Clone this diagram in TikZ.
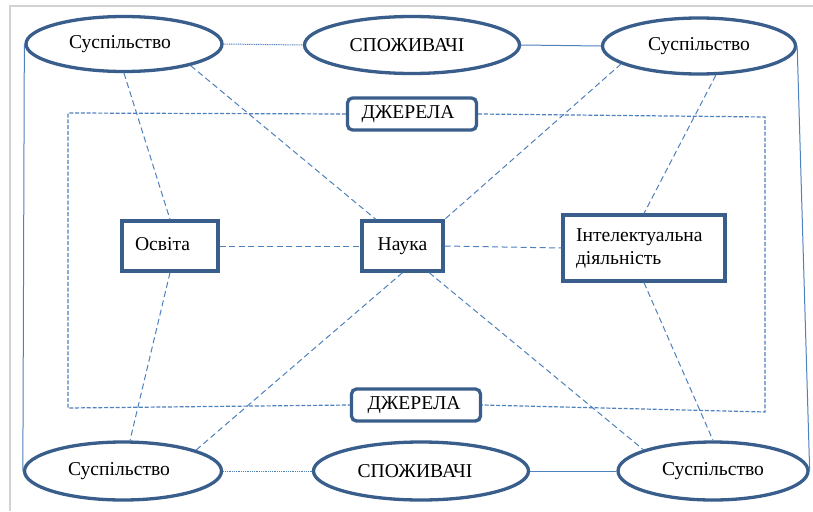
\documentclass[tikz,border=0pt]{standalone}
\usepackage{fontspec}
\setmainfont{Liberation Serif}
\newfontfamily\timesfont{Liberation Serif}
\usetikzlibrary{shapes.geometric,calc}
\definecolor{dkblue}{RGB}{58,94,140}
\definecolor{ltblue}{RGB}{79,129,189}
\definecolor{framegray}{RGB}{210,210,210}
\begin{document}
\begin{tikzpicture}[x=1pt,y=-1pt,
  every node/.style={font=\timesfont\fontsize{19.6}{23}\selectfont},
  ell/.style={ellipse, draw=dkblue, line width=3.3pt, fill=white, inner sep=0pt},
  box/.style={rectangle, draw=dkblue, line width=3.3pt, fill=white, inner sep=0pt},
  srcbox/.style={rectangle, rounded corners=5pt, draw=dkblue, line width=3.3pt, fill=white, inner sep=0pt, minimum width=129pt, minimum height=32pt},
  dashln/.style={draw=ltblue, line width=1pt, dash pattern=on 6pt off 3.5pt},
  rectln/.style={draw=ltblue, line width=1.2pt, dash pattern=on 4pt off 1.8pt},
  dotln/.style={draw=ltblue, line width=1pt, dash pattern=on 1pt off 0.8pt},
  solidln/.style={draw=ltblue, line width=1pt}
]
\useasboundingbox (0,0) rectangle (813,511);
\fill[white] (0,0) rectangle (813,511);
% screenshot frame
\draw[framegray, line width=2pt] (9,6) -- (813,6);
\draw[framegray, line width=2pt] (10,6) -- (10,511);

% coordinates of the dashed rectangle
\coordinate (rTL) at (68,113);
\coordinate (rTR) at (765,117);
\coordinate (rBL) at (68,408);
\coordinate (rBR) at (765,412);

% nodes
\node[ell, minimum width=196pt, minimum height=55pt] (tl) at (124,44) {\hspace*{-8pt}Суспільство};
\node[ell, minimum width=215pt, minimum height=57pt] (tc) at (412,45) {\hspace*{-10pt}СПОЖИВАЧІ};
\node[ell, minimum width=193pt, minimum height=56pt] (tr) at (699,46) {Суспільство};
\node[ell, minimum width=197pt, minimum height=58pt] (bl) at (123,471) {\hspace*{-8pt}Суспільство};
\node[ell, minimum width=215pt, minimum height=58pt] (bc) at (421,471) {\hspace*{-12pt}СПОЖИВАЧІ};
\node[ell, minimum width=190pt, minimum height=58pt] (br) at (713,471) {Суспільство};

\node[srcbox] (jt) at (412,114) {\hspace*{-8pt}ДЖЕРЕЛА};
\node[srcbox] (jb) at (416,405) {\hspace*{-4pt}ДЖЕРЕЛА};

\node[box, minimum width=96pt, minimum height=50pt, text width=70pt, inner xsep=13pt, align=left] (osv) at (170,246) {\raisebox{4pt}{Освіта}};
\node[box, minimum width=81pt, minimum height=50pt] (nauka) at (402.5,246) {\raisebox{4pt}{Наука}};
\node[box, minimum width=162pt, minimum height=66pt, text width=136pt, inner xsep=13pt, align=left] (intel) at (644,248) {Інтелектуальна\\діяльність};

% outer connectors
\path[dotln] (tl.east) -- (tc.west);
\path[solidln] (tc.east) -- (tr.west);
\path[dotln] (bl.east) -- (bc.west);
\path[solidln] (bc.east) -- (br.west);
\path[solidln] (tl.west) -- (bl.west);
\path[solidln] (tr.east) -- (br.east);

% dashed rectangle
\path[rectln] (jt.west) -- (rTL) -- (rBL) -- (jb.west);
\path[rectln] (jt.east) -- (rTR) -- (rBR) -- (jb.east);

% dashed links
\path[dashln] (tl.south) -- (osv.north);
\path[dashln] (osv.south) -- ([xshift=7pt]bl.north);
\path[dashln] (tl.-18) -- (nauka.135);
\path[dashln] (tr.-167) -- (nauka.north east);
\path[dashln] (tr.-60) -- (intel.north);
\path[dashln] (nauka.south) -- (bl.16);
\path[dashln] (nauka.-45) -- (br.163);
\path[dashln] (intel.south) -- (br.north);
\path[dashln] (osv.east) -- (nauka.west);
\path[dashln] (nauka.east) -- (intel.west);
\end{tikzpicture}
\end{document}
